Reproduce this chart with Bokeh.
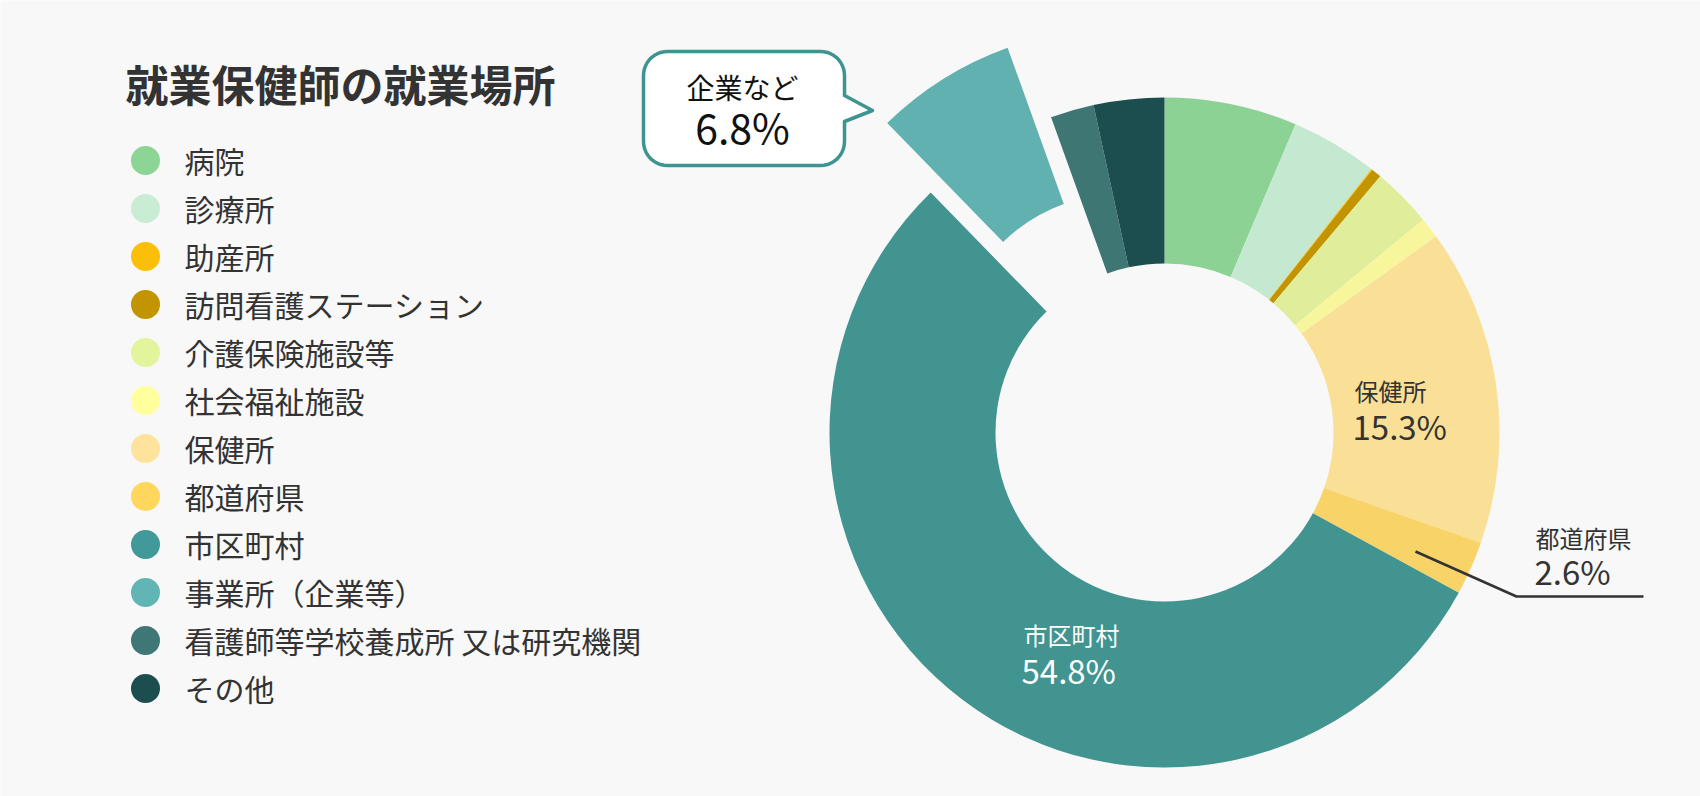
import numpy as np
from bokeh.plotting import figure
from bokeh.models import ColumnDataSource, Range1d, Label
from bokeh.embed import file_html
from bokeh.resources import INLINE

# ---------------- data ----------------
title_text = "就業保健師の就業場所"
categories = ["病院", "診療所", "助産所", "訪問看護ステーション", "介護保険施設等",
              "社会福祉施設", "保健所", "都道府県", "市区町村", "事業所（企業等）",
              "看護師等学校養成所 又は研究機関", "その他"]
shares = [6.4, 4.2, 0.05, 0.5, 2.9, 1.0, 15.3, 2.6, 54.8, 6.8, 2.1, 3.4]
slice_colors = ["#8bd294", "#c5e8d1", "#fbbf0a", "#c19400", "#e0ed9b", "#f8f69c",
                "#f9e096", "#f8d468", "#419490", "#62b1b1", "#3e7674", "#1c4d4f"]
legend_colors = ["#8cd595", "#c8edd4", "#fbbf0a", "#c19400", "#e2f59c", "#ffff9e",
                 "#ffe39c", "#ffd75c", "#42999a", "#62b5b5", "#3e7775", "#1c4d4f"]
callout_name = "企業など"
exploded_index = 9
inside_labels = {6: ("保健所", "#333333"), 8: ("市区町村", "#ffffff")}
leader_label = (7, "都道府県")

# ---------------- layout ----------------
W, H = 1700, 796
BG = "#f8f8f8"
TXT = "#333333"
JP = "Noto Sans CJK JP"


def Y(py):
    return H - py


p = figure(width=W, height=H, x_range=Range1d(0, W), y_range=Range1d(0, H),
           output_backend="svg", toolbar_location=None, min_border=0,
           background_fill_color=BG, border_fill_color=BG)
p.axis.visible = False
p.grid.visible = False
p.outline_line_color = None

# ---------------- donut ----------------
cx, cy = 1164.0, 432.0
r_out, r_in = 335.0, 169.0
explode = 82.0

vals = np.array(shares, dtype=float)
total = vals.sum()
cum = np.cumsum(vals)
th0 = 2 * np.pi * (cum - vals) / total      # clockwise from 12 o'clock
th1 = 2 * np.pi * cum / total
thm = (th0 + th1) / 2
offs = np.zeros(len(vals))
offs[exploded_index] = explode
xs = cx + offs * np.sin(thm)
ys = Y(cy) + offs * np.cos(thm)

src = ColumnDataSource(dict(x=xs, y=ys, start=np.pi / 2 - th0, end=np.pi / 2 - th1,
                            color=slice_colors, name=categories))
p.annular_wedge(x="x", y="y", inner_radius=r_in, outer_radius=r_out,
                start_angle="start", end_angle="end", direction="clock",
                fill_color="color", line_color=None, source=src)

# ---------------- title ----------------
p.add_layout(Label(x=125, y=Y(82), text=title_text, text_font=JP, text_font_size="43px",
                   text_font_style="bold", text_color=TXT, text_baseline="middle",
                   text_align="left"))

# ---------------- legend ----------------
leg_y = [Y(160 + 48 * i) for i in range(len(categories))]
p.scatter(x=[145] * len(categories), y=leg_y, size=29, marker="circle",
          fill_color=legend_colors, line_color=None)
for i, c in enumerate(categories):
    p.add_layout(Label(x=184, y=leg_y[i] + 1, text=c, text_font=JP, text_font_size="30px",
                       text_color=TXT, text_baseline="middle", text_align="left"))

# ---------------- labels inside slices ----------------
label_pos = {6: (1354, 390, 425), 8: (1023, 634, 669)}
for idx, (nm, col) in inside_labels.items():
    lx, ly1, ly2 = label_pos[idx]
    p.add_layout(Label(x=lx, y=Y(ly1), text=nm, text_font=JP, text_font_size="24px",
                       text_color=col, text_baseline="middle"))
    p.add_layout(Label(x=lx - 2, y=Y(ly2), text=f"{shares[idx]:.1f}%", text_font=JP,
                       text_font_size="33px", text_color=col, text_baseline="middle"))

# ---------------- leader label ----------------
li, lname = leader_label
p.line(x=[1415, 1516, 1643], y=[Y(551), Y(596), Y(596)], line_color=TXT, line_width=2.5)
p.add_layout(Label(x=1535, y=Y(537), text=lname, text_font=JP, text_font_size="24px",
                   text_color=TXT, text_baseline="middle"))
p.add_layout(Label(x=1534, y=Y(570), text=f"{shares[li]:.1f}%", text_font=JP,
                   text_font_size="33px", text_color=TXT, text_baseline="middle"))

# ---------------- callout ----------------
x0, y0, x1, y1, rr = 643.0, 51.0, 844.0, 165.0, 24.0
pts = []


def arc(ccx, ccy, a0, a1):
    for a in np.linspace(np.radians(a0), np.radians(a1), 12):
        pts.append((ccx + rr * np.cos(a), ccy + rr * np.sin(a)))


arc(x0 + rr, y0 + rr, 180, 270)
arc(x1 - rr, y0 + rr, 270, 360)
pts += [(x1, 95.0), (872.0, 110.0), (x1, 121.0)]
arc(x1 - rr, y1 - rr, 0, 90)
arc(x0 + rr, y1 - rr, 90, 180)
p.patch(x=[q[0] for q in pts], y=[Y(q[1]) for q in pts], fill_color="white",
        line_color="#3d9490", line_width=3.5, line_join="round")
p.add_layout(Label(x=742, y=Y(86), text=callout_name, text_font=JP, text_font_size="28px",
                   text_color="#111111", text_baseline="middle", text_align="center"))
p.add_layout(Label(x=742, y=Y(125), text=f"{shares[exploded_index]:.1f}%", text_font=JP,
                   text_font_size="41px", text_color="#111111", text_baseline="middle",
                   text_align="center"))

open("out.html", "w").write(file_html(p, INLINE))
